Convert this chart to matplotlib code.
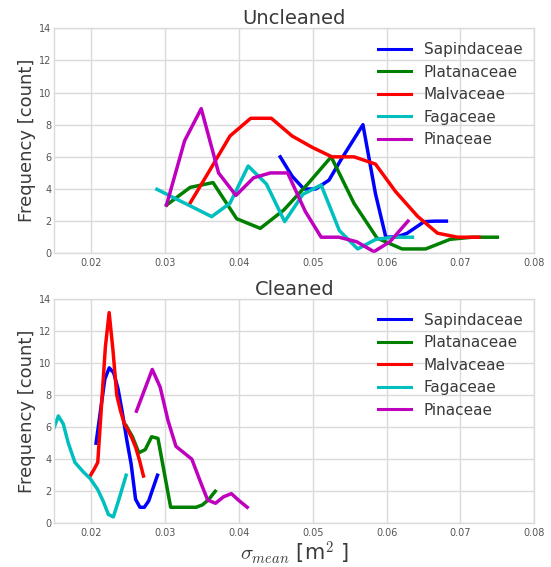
import matplotlib
matplotlib.use("Agg")
import matplotlib.pyplot as plt

families = ["Sapindaceae", "Platanaceae", "Malvaceae", "Fagaceae", "Pinaceae"]
colors = ["b", "g", "r", "c", "m"]

# Uncleaned
unc_sap_x = [0.0456, 0.0472, 0.0488, 0.0504, 0.0522, 0.0538, 0.0553, 0.0568, 0.0585, 0.0599, 0.0615, 0.0628, 0.0651, 0.0666, 0.0681]
unc_sap_y = [6.0, 4.8, 4.0, 4.0, 4.55, 5.8, 6.9, 8.0, 3.7, 1.0, 1.03, 1.25, 1.97, 2.0, 2.0]
unc_pla_x = [0.0302, 0.0334, 0.0365, 0.0397, 0.0429, 0.0461, 0.0494, 0.0525, 0.0556, 0.0587, 0.0621, 0.0653, 0.0686, 0.0716, 0.0750]
unc_pla_y = [3.0, 4.1, 4.4, 2.15, 1.55, 2.7, 4.35, 6.0, 3.1, 0.95, 0.27, 0.27, 0.87, 1.0, 1.0]
unc_mal_x = [0.0333, 0.0361, 0.0388, 0.0416, 0.0444, 0.0472, 0.0499, 0.0526, 0.0556, 0.0585, 0.0612, 0.0642, 0.0669, 0.0696, 0.0725]
unc_mal_y = [3.05, 5.2, 7.3, 8.4, 8.4, 7.3, 6.6, 6.0, 6.0, 5.55, 3.85, 2.3, 1.25, 1.0, 1.0]
unc_fag_x = [0.0289, 0.03137, 0.03384, 0.03631, 0.03879, 0.04126, 0.04373, 0.0462, 0.04867, 0.05114, 0.05361, 0.05609, 0.05856, 0.06103, 0.0635]
unc_fag_y = [3.98, 3.41, 2.85, 2.28, 3.11, 5.43, 4.31, 1.97, 3.67, 4.25, 1.41, 0.27, 0.87, 1.0, 1.0]
unc_pin_x = [0.0302, 0.03265, 0.0349, 0.03725, 0.0396, 0.0420, 0.04427, 0.0466, 0.0490, 0.05114, 0.05354, 0.05594, 0.05829, 0.06046, 0.0629]
unc_pin_y = [3.0, 7.0, 9.0, 5.0, 3.6, 4.7, 5.0, 5.0, 2.6, 1.0, 1.0, 0.72, 0.1, 0.72, 2.0]

# Cleaned
cl_sap_x = [0.02066, 0.02125, 0.02185, 0.02244, 0.02304, 0.02363, 0.02422, 0.02482, 0.02541, 0.02601, 0.0266, 0.0272, 0.02779, 0.02838, 0.02898]
cl_sap_y = [5.0, 7.0, 9.0, 9.7, 9.4, 8.4, 6.9, 5.2, 3.7, 1.5, 1.0, 1.0, 1.4, 2.2, 3.0]
cl_pla_x = [0.02473, 0.02559, 0.02645, 0.02732, 0.02818, 0.02904, 0.0299, 0.03076, 0.03163, 0.03249, 0.03335, 0.03421, 0.03507, 0.03594, 0.0368]
cl_pla_y = [6.1, 5.4, 4.4, 4.6, 5.4, 5.3, 3.15, 1.0, 1.0, 1.0, 1.0, 1.0, 1.15, 1.5, 2.0]
cl_mal_x = [0.01985, 0.02037, 0.02089, 0.0214, 0.02192, 0.02243, 0.02295, 0.02346, 0.02398, 0.0245, 0.02501, 0.02553, 0.02605, 0.02656, 0.02708]
cl_mal_y = [2.95, 3.35, 3.8, 7.4, 11.0, 13.15, 10.8, 8.0, 7.0, 6.2, 5.8, 5.3, 4.7, 3.9, 2.95]
cl_fag_x = [0.0150, 0.01555, 0.01622, 0.0169, 0.0178, 0.01894, 0.01985, 0.02089, 0.02165, 0.02233, 0.0230, 0.02376, 0.02473]
cl_fag_y = [6.0, 6.7, 6.2, 5.0, 3.8, 3.2, 2.8, 2.1, 1.35, 0.55, 0.4, 1.5, 3.0]
cl_pin_x = [0.02613, 0.0272, 0.02827, 0.02934, 0.03041, 0.03148, 0.03256, 0.03363, 0.0347, 0.03577, 0.03684, 0.03791, 0.03898, 0.04006, 0.04113]
cl_pin_y = [7.0, 8.3, 9.6, 8.5, 6.4, 4.8, 4.4, 4.0, 2.7, 1.45, 1.25, 1.65, 1.85, 1.4, 1.0]

xticks = [0.02, 0.03, 0.04, 0.05, 0.06, 0.07, 0.08]
xtick_labels = ["0.02", "0.03", "0.04", "0.05", "0.06", "0.07", "0.08"]
yticks = [0, 2, 4, 6, 8, 10, 12, 14]

plt.rcParams["mathtext.fontset"] = "cm"
plt.rcParams["font.family"] = ["DejaVu Sans"]

fig = plt.figure(figsize=(5.51, 5.67), dpi=100)
ax1 = fig.add_axes([0.0985, 0.5533, 0.8711, 0.3968])
ax2 = fig.add_axes([0.0985, 0.0771, 0.8711, 0.3956])

unc = [(unc_sap_x, unc_sap_y), (unc_pla_x, unc_pla_y), (unc_mal_x, unc_mal_y),
       (unc_fag_x, unc_fag_y), (unc_pin_x, unc_pin_y)]
cl = [(cl_sap_x, cl_sap_y), (cl_pla_x, cl_pla_y), (cl_mal_x, cl_mal_y),
      (cl_fag_x, cl_fag_y), (cl_pin_x, cl_pin_y)]

def style(ax, title):
    ax.set_xlim(0.015, 0.08)
    ax.set_ylim(0, 14)
    ax.set_xticks(xticks)
    ax.set_xticklabels(xtick_labels)
    ax.set_yticks(yticks)
    ax.grid(True, color="#dadada", linewidth=1.0)
    ax.set_axisbelow(True)
    for s in ax.spines.values():
        s.set_color("#dadada")
        s.set_linewidth(1.0)
    ax.tick_params(axis="x", length=0, labelsize=7, colors="#555555", pad=3.5)
    ax.tick_params(axis="y", length=0, labelsize=7, colors="#555555", pad=2)
    ax.set_title(title, fontsize=14, color="#3a3a3a", pad=3)
    ax.set_ylabel("Frequency [count]", fontsize=13, color="#3a3a3a", labelpad=2)

for (x, y), c, lab in zip(unc, colors, families):
    ax1.plot(x, y, color=c, lw=2.5, label=lab)
for (x, y), c, lab in zip(cl, colors, families):
    ax2.plot(x, y, color=c, lw=2.5, label=lab)

style(ax1, "Uncleaned")
style(ax2, "Cleaned")

for ax in (ax1, ax2):
    leg = ax.legend(loc="upper right", frameon=False, fontsize=11, labelspacing=0.49,
                    handlelength=2.2, handletextpad=0.8, bbox_to_anchor=(1.004, 1.0))
    for t in leg.get_texts():
        t.set_color("#3a3a3a")
    for l in leg.get_lines():
        l.set_linewidth(2.2)

ax2.set_xlabel(r"$\sigma_{mean}$ [m$^2$ ]", fontsize=15, color="#3a3a3a", labelpad=1)

fig.savefig("out.png", dpi=100)
